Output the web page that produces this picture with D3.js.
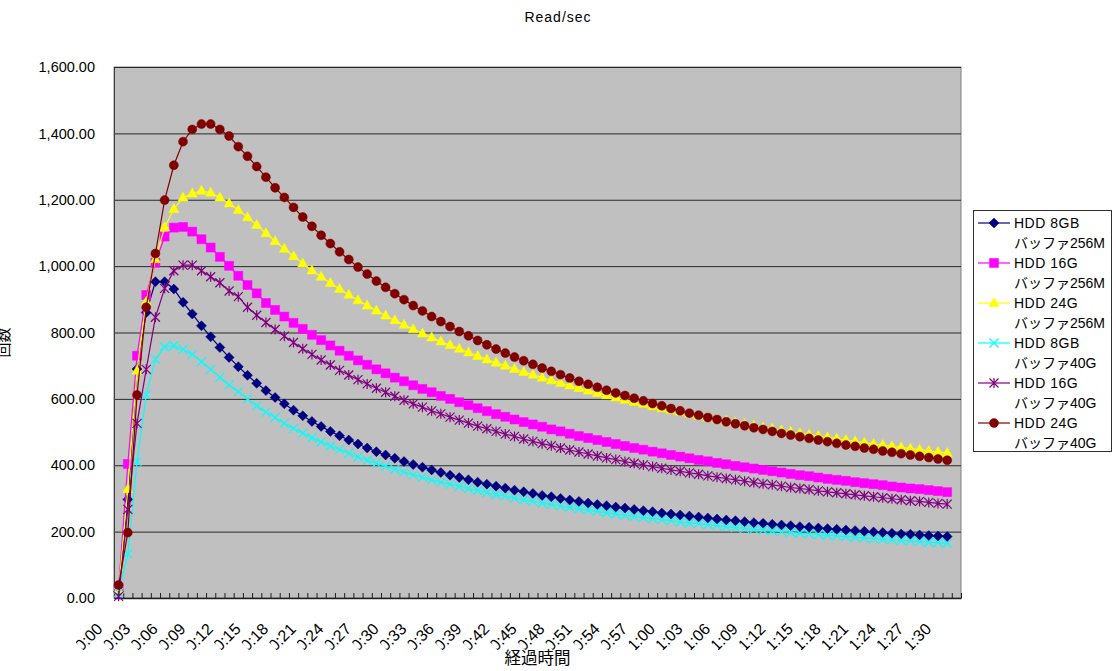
<!DOCTYPE html>
<html>
<head>
<meta charset="utf-8">
<script src="https://d3js.org/d3.v7.min.js"></script>
<style>
  body { margin: 0; background: #fff; }
  svg { display: block; font-family: "Liberation Sans", Arial, "Noto Sans CJK JP", sans-serif; }
  .ylab { font-size: 14.5px; fill: #000; }
  .xlab { font-size: 16px; fill: #000; }
  .legend text { font-size: 14px; letter-spacing: 0.5px; }
</style>
</head>
<body>
<svg id="chart" width="1116" height="671"></svg>
<script>
// categories are minutes 0:00 .. 1:31, labels every 3 minutes
const nCategories = 92;
const tickLabels = ["0:00","0:03","0:06","0:09","0:12","0:15","0:18","0:21","0:24","0:27",
  "0:30","0:33","0:36","0:39","0:42","0:45","0:48","0:51","0:54","0:57",
  "1:00","1:03","1:06","1:09","1:12","1:15","1:18","1:21","1:24","1:27","1:30"];
const yTicks = [0, 200, 400, 600, 800, 1000, 1200, 1400, 1600];

const hdd8_256 = [20,297,690,860,953,953,931,891,856,820,787,755,725,697,671,647,625,604,585,566,
  549,532,517,502,489,476,464,452,441,431,421,411,402,394,386,378,370,363,356,349,
  343,337,331,325,320,315,309,305,300,295,291,286,282,278,274,271,267,263,260,256,
  253,250,247,244,241,238,235,233,230,227,225,222,220,218,215,213,211,209,207,205,
  203,201,199,197,195,193,192,190,188,187,185];
const hdd16_256 = [30,404,730,913,1010,1089,1116,1118,1104,1081,1056,1028,1001,971,943,918,889,868,848,829,
  811,793,777,761,745,730,716,703,689,677,664,653,641,630,620,609,600,590,581,572,
  563,554,546,538,530,523,516,508,502,495,488,482,476,470,464,458,452,447,441,436,
  431,426,421,416,412,407,403,398,394,390,386,382,378,374,370,367,363,359,356,353,
  349,346,343,340,336,333,330,328,325,322,319];
const hdd24_256 = [25,328,685,893,1021,1117,1172,1207,1219,1227,1221,1207,1189,1169,1147,1124,1099,1075,1052,1030,
  1008,987,968,949,931,914,897,881,866,851,837,823,810,797,785,773,762,751,740,729,
  719,709,700,690,681,673,664,656,648,640,633,625,618,611,604,597,591,585,578,572,
  566,561,555,549,544,539,534,529,524,519,514,510,505,501,496,492,488,484,480,476,
  472,468,464,461,457,454,450,447,443,440,437];
const hdd8_40 = [16,133,411,612,720,757,760,749,734,712,689,665,642,622,600,579,560,544,526,511,
  497,483,470,458,447,436,425,415,406,397,388,380,371,364,356,349,343,336,330,324,
  318,312,307,301,296,291,286,282,277,273,269,265,261,257,253,249,246,242,239,236,
  233,229,226,224,221,218,215,212,210,207,205,202,200,198,195,193,191,189,187,185,
  183,181,179,177,175,174,172,170,168,167,165];
const hdd16_40 = [5,267,526,689,846,933,986,1003,1003,986,968,950,925,908,876,852,830,809,789,770,
  751,734,717,702,686,672,658,645,632,620,608,596,585,575,564,555,545,536,527,518,
  510,502,494,487,479,472,465,459,452,446,440,434,428,422,417,411,406,401,396,391,
  386,382,377,373,368,364,360,356,352,348,344,341,337,333,330,327,323,320,317,314,
  311,308,305,302,299,296,293,291,288,285,283];
const hdd24_40 = [39,197,612,876,1038,1199,1304,1375,1412,1428,1428,1412,1392,1360,1331,1300,1268,1236,1207,1177,
  1148,1120,1093,1068,1043,1020,997,976,955,936,917,899,881,865,848,833,818,803,790,776,
  763,750,738,726,715,704,693,683,673,663,653,644,635,626,618,610,602,594,586,579,
  571,564,557,551,544,538,531,525,519,513,508,502,496,491,486,481,476,471,466,461,
  457,452,448,443,439,435,431,427,423,419,415];

const seriesNames = [["HDD 8GB", "バッファ256M"], ["HDD 16G", "バッファ256M"], ["HDD 24G", "バッファ256M"],
  ["HDD 8GB", "バッファ40G"], ["HDD 16G", "バッファ40G"], ["HDD 24G", "バッファ40G"]];
const seriesValues = [hdd8_256, hdd16_256, hdd24_256, hdd8_40, hdd16_40, hdd24_40];
const seriesColors = ["#000080", "#ff00ff", "#ffff00", "#00ffff", "#800080", "#800000"];
const seriesMarkers = ["diamond", "square", "triangle", "cross", "star", "circle"];

const svg = d3.select("#chart");
const plot = { left: 114, right: 961, top: 67, bottom: 598 };

const xBand = d3.scaleBand(d3.range(nCategories), [plot.left, plot.right]).padding(0);
const xEdge = d3.scaleLinear([0, nCategories], [plot.left, plot.right]);
const y = d3.scaleLinear([0, 1600], [plot.bottom, plot.top]);
const cx = i => xBand(i) + xBand.bandwidth() / 2;

// plot background
svg.append("rect")
  .attr("x", plot.left).attr("y", plot.top)
  .attr("width", plot.right - plot.left).attr("height", plot.bottom - plot.top)
  .attr("fill", "#c0c0c0").attr("stroke", "#808080");

// horizontal grid
svg.append("g")
  .selectAll("line").data(yTicks.slice(1))
  .join("line")
  .attr("x1", plot.left).attr("x2", plot.right)
  .attr("y1", d => y(d) + 0.5).attr("y2", d => y(d) + 0.5)
  .attr("stroke", "#2a2a2a").attr("stroke-width", 1);

// y axis
const yAxis = svg.append("g")
  .attr("transform", `translate(${plot.left},0)`)
  .call(d3.axisLeft(y).tickValues(yTicks).tickSize(0).tickPadding(19).tickFormat(d3.format(",.2f")));
yAxis.select(".domain").attr("stroke", "#404040");
yAxis.selectAll("text").attr("class", "ylab").attr("font-family", null).attr("font-size", null);

// x axis (ticks between categories, pointing inward)
const xAxis = svg.append("g")
  .attr("transform", `translate(0,${plot.bottom})`)
  .call(d3.axisBottom(xEdge).tickValues(d3.range(1, nCategories + 1)).tickSizeInner(-5).tickSizeOuter(0).tickFormat(""));
xAxis.select(".domain").attr("stroke", "#202020").attr("stroke-width", 1.5);
xAxis.selectAll(".tick line").attr("stroke", "#202020");

// x tick labels, rotated; first glyph is partly clipped as in the original
svg.append("defs").append("clipPath").attr("id", "labclip")
  .append("rect").attr("x", -28.5).attr("y", -20).attr("width", 35).attr("height", 30);
svg.append("g")
  .selectAll("text").data(tickLabels)
  .join("text")
  .attr("class", "xlab")
  .attr("text-anchor", "end")
  .attr("clip-path", "url(#labclip)")
  .attr("transform", (d, k) => `translate(${cx(k * 3) - 15},630) rotate(-45)`)
  .text(d => d);

// series
const markerPath = {
  diamond: "M0,-5L5,0L0,5L-5,0Z",
  square: "M-4.5,-4.5H4.5V4.5H-4.5Z",
  triangle: "M0,-5.5L5,3.5H-5Z",
  cross: "M-4.5,-4.5L4.5,4.5M-4.5,4.5L4.5,-4.5",
  star: "M-4.5,-4.5L4.5,4.5M-4.5,4.5L4.5,-4.5M0,-5V5",
  circle: "M4.5,0A4.5,4.5,0,1,1,-4.5,0A4.5,4.5,0,1,1,4.5,0Z"
};
const line = d3.line().x((d, i) => cx(i)).y(d => y(d));

seriesValues.forEach((vals, s) => {
  const g = svg.append("g");
  g.append("path")
    .attr("d", line(vals))
    .attr("fill", "none")
    .attr("stroke", seriesColors[s])
    .attr("stroke-width", 1.2);
  const open = seriesMarkers[s] === "cross" || seriesMarkers[s] === "star";
  g.selectAll("path.m").data(vals)
    .join("path")
    .attr("class", "m")
    .attr("transform", (d, i) => `translate(${cx(i)},${y(d)})`)
    .attr("d", markerPath[seriesMarkers[s]])
    .attr("fill", open ? "none" : seriesColors[s])
    .attr("stroke", seriesColors[s])
    .attr("stroke-width", open ? 1.2 : 0.5);
});

// title
svg.append("text")
  .attr("x", 558).attr("y", 22)
  .attr("text-anchor", "middle")
  .style("font-size", "14px").style("letter-spacing", "1px")
  .text("Read/sec");

// axis titles
svg.append("text")
  .attr("x", (plot.left + plot.right) / 2).attr("y", 664)
  .attr("text-anchor", "middle")
  .style("font-size", "16.5px")
  .style("font-family", "'Noto Sans CJK JP', sans-serif")
  .text("経過時間");

svg.append("text")
  .attr("transform", `translate(9,${(plot.top + plot.bottom) / 2 + 10}) rotate(-90)`)
  .attr("text-anchor", "middle")
  .style("font-size", "15px")
  .style("font-family", "'Noto Sans CJK JP', sans-serif")
  .text("回数");

// legend
const legend = svg.append("g").attr("class", "legend");
legend.append("rect")
  .attr("x", 973.5).attr("y", 210.5).attr("width", 138).attr("height", 241)
  .attr("fill", "#fff").attr("stroke", "#303030");

seriesNames.forEach((nm, s) => {
  const ly = 223 + s * 40;
  const lg = legend.append("g");
  lg.append("line")
    .attr("x1", 978).attr("x2", 1010).attr("y1", ly).attr("y2", ly)
    .attr("stroke", seriesColors[s]).attr("stroke-width", 1.2);
  const open = seriesMarkers[s] === "cross" || seriesMarkers[s] === "star";
  lg.append("path")
    .attr("transform", `translate(994,${ly})`)
    .attr("d", markerPath[seriesMarkers[s]])
    .attr("fill", open ? "none" : seriesColors[s])
    .attr("stroke", seriesColors[s])
    .attr("stroke-width", open ? 1.2 : 0.5);
  lg.append("text").attr("x", 1014).attr("y", ly + 5).text(nm[0]);
  lg.append("text").attr("x", 1014).attr("y", ly + 25).style("letter-spacing", "0px").text(nm[1]);
});
</script>
</body>
</html>
